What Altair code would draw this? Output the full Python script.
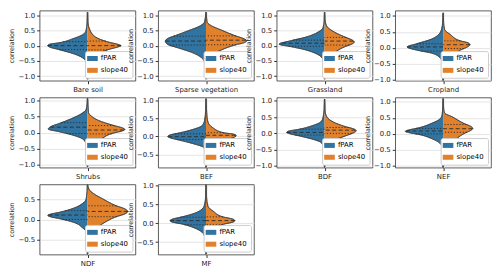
import altair as alt
import numpy as np
import pandas as pd

CLASSES = ["Bare soil", "Sparse vegetation", "Grassland", "Cropland", "Shrubs",
           "BEF", "BDF", "NEF", "NDF", "MF"]
SERIES = ["fPAR", "slope40"]
COLORS = ["#3274a1", "#e1812c"]

# y-axis ranges and ticks per panel
Y_MIN = [-1.15, -1.15, -1.15, -1.03, -1.1, -0.87, -1.05, -1.05, -0.87, -0.83]
Y_MAX = [1.15, 1.15, 1.15, 1.17, 1.1, 1.08, 1.1, 1.13, 0.87, 1.03]
TICKS_FULL = [-1.0, -0.5, 0.0, 0.5, 1.0]
TICKS_BEF = [-0.5, 0.0, 0.5, 1.0]
TICKS_NDF = [-0.5, 0.0, 0.5]
TICKS_MF = [-0.5, 0.0, 0.5, 1.0]

# quartiles (q1, median, q3)
FPAR_Q1 = [-0.13, 0.02, -0.02, -0.10, -0.03, -0.09, -0.05, 0.00, 0.00, -0.04]
FPAR_MED = [0.00, 0.15, 0.08, 0.03, 0.17, -0.01, 0.03, 0.09, 0.11, 0.07]
FPAR_Q3 = [0.13, 0.31, 0.18, 0.13, 0.31, 0.07, 0.13, 0.17, 0.22, 0.16]
SLOPE_Q1 = [-0.14, 0.03, 0.02, -0.02, -0.04, -0.06, 0.00, 0.05, 0.07, -0.03]
SLOPE_MED = [0.00, 0.18, 0.15, 0.10, 0.08, 0.03, 0.10, 0.16, 0.20, 0.07]
SLOPE_Q3 = [0.15, 0.32, 0.27, 0.22, 0.22, 0.10, 0.18, 0.29, 0.34, 0.17]

# violin half profiles: correlation value (y) and half width (w, fraction of half panel)
BARE_FPAR_Y = [-1.1, -0.75, -0.53, -0.4, -0.26, -0.14, -0.04, 0.0, 0.04, 0.1, 0.23, 0.36, 0.5, 0.75, 1.1]
BARE_FPAR_W = [0.004, 0.01, 0.03, 0.1, 0.3, 0.57, 0.8, 0.83, 0.8, 0.57, 0.3, 0.1, 0.03, 0.01, 0.004]
BARE_SLOPE_Y = [-1.1, -0.75, -0.53, -0.29, -0.13, -0.03, 0.0, 0.03, 0.12, 0.28, 0.55, 0.75, 1.1]
BARE_SLOPE_W = [0.004, 0.01, 0.04, 0.17, 0.43, 0.66, 0.70, 0.66, 0.43, 0.17, 0.04, 0.01, 0.004]

SPARSE_FPAR_Y = [-1.1, -0.7, -0.53, -0.4, -0.22, -0.08, 0.05, 0.15, 0.25, 0.33, 0.49, 0.65, 0.78, 1.1]
SPARSE_FPAR_W = [0.004, 0.01, 0.03, 0.09, 0.3, 0.57, 0.81, 0.85, 0.78, 0.64, 0.37, 0.12, 0.03, 0.004]
SPARSE_SLOPE_Y = [-1.1, -0.7, -0.5, -0.34, -0.14, 0.02, 0.1, 0.16, 0.22, 0.33, 0.51, 0.68, 0.78, 1.1]
SPARSE_SLOPE_W = [0.004, 0.01, 0.03, 0.08, 0.32, 0.6, 0.8, 0.85, 0.8, 0.6, 0.32, 0.08, 0.02, 0.004]

GRASS_FPAR_Y = [-1.1, -0.7, -0.47, -0.29, -0.14, -0.03, 0.05, 0.16, 0.28, 0.44, 0.6, 0.8, 1.1]
GRASS_FPAR_W = [0.004, 0.01, 0.03, 0.14, 0.39, 0.71, 0.95, 0.71, 0.39, 0.14, 0.03, 0.01, 0.004]
GRASS_SLOPE_Y = [-1.1, -0.7, -0.45, -0.22, -0.03, 0.06, 0.12, 0.18, 0.28, 0.44, 0.65, 0.85, 1.1]
GRASS_SLOPE_W = [0.004, 0.01, 0.05, 0.21, 0.43, 0.58, 0.62, 0.58, 0.43, 0.21, 0.04, 0.01, 0.004]

CROP_FPAR_Y = [-1.03, -0.7, -0.4, -0.3, -0.16, -0.07, 0.03, 0.13, 0.27, 0.46, 0.6, 0.8, 1.1]
CROP_FPAR_W = [0.004, 0.01, 0.03, 0.07, 0.25, 0.55, 0.75, 0.55, 0.25, 0.07, 0.03, 0.01, 0.004]
CROP_SLOPE_Y = [-1.03, -0.7, -0.38, -0.26, -0.07, 0.04, 0.1, 0.16, 0.22, 0.42, 0.58, 0.8, 1.1]
CROP_SLOPE_W = [0.004, 0.01, 0.03, 0.15, 0.36, 0.52, 0.56, 0.52, 0.36, 0.15, 0.03, 0.01, 0.004]

SHRUB_FPAR_Y = [-1.08, -0.7, -0.45, -0.32, -0.2, -0.07, 0.03, 0.11, 0.2, 0.28, 0.44, 0.59, 0.72, 0.9, 1.08]
SHRUB_FPAR_W = [0.004, 0.01, 0.02, 0.04, 0.1, 0.33, 0.6, 0.82, 0.75, 0.6, 0.33, 0.13, 0.03, 0.01, 0.004]
SHRUB_SLOPE_Y = [-1.08, -0.7, -0.5, -0.42, -0.22, -0.02, 0.05, 0.1, 0.15, 0.23, 0.38, 0.53, 0.62, 0.85, 1.08]
SHRUB_SLOPE_W = [0.004, 0.01, 0.02, 0.07, 0.27, 0.53, 0.72, 0.78, 0.72, 0.53, 0.23, 0.07, 0.02, 0.01, 0.004]

BEF_FPAR_Y = [-0.87, -0.5, -0.32, -0.2, -0.11, -0.04, 0.0, 0.04, 0.1, 0.19, 0.3, 0.45, 0.7, 1.05]
BEF_FPAR_W = [0.004, 0.01, 0.04, 0.28, 0.54, 0.75, 0.8, 0.75, 0.54, 0.28, 0.08, 0.03, 0.01, 0.004]
BEF_SLOPE_Y = [-0.87, -0.5, -0.32, -0.23, -0.11, -0.03, 0.02, 0.06, 0.1, 0.24, 0.4, 0.55, 0.75, 1.05]
BEF_SLOPE_W = [0.004, 0.01, 0.04, 0.14, 0.37, 0.58, 0.63, 0.58, 0.37, 0.14, 0.04, 0.02, 0.01, 0.004]

BDF_FPAR_Y = [-1.05, -0.6, -0.38, -0.27, -0.17, -0.08, 0.0, 0.03, 0.07, 0.13, 0.23, 0.35, 0.5, 0.75, 1.05]
BDF_FPAR_W = [0.004, 0.01, 0.03, 0.08, 0.27, 0.52, 0.75, 0.79, 0.75, 0.52, 0.27, 0.08, 0.03, 0.01, 0.004]
BDF_SLOPE_Y = [-1.05, -0.6, -0.35, -0.22, -0.08, 0.03, 0.08, 0.13, 0.21, 0.35, 0.5, 0.7, 1.05]
BDF_SLOPE_W = [0.004, 0.01, 0.04, 0.18, 0.43, 0.62, 0.66, 0.62, 0.43, 0.18, 0.05, 0.01, 0.004]

NEF_FPAR_Y = [-1.05, -0.7, -0.4, -0.3, -0.14, -0.02, 0.04, 0.08, 0.12, 0.19, 0.32, 0.47, 0.6, 0.8, 1.1]
NEF_FPAR_W = [0.004, 0.01, 0.02, 0.06, 0.25, 0.5, 0.72, 0.79, 0.72, 0.5, 0.25, 0.06, 0.02, 0.01, 0.004]
NEF_SLOPE_Y = [-1.05, -0.7, -0.4, -0.25, 0.01, 0.11, 0.17, 0.23, 0.32, 0.53, 0.65, 0.8, 1.1]
NEF_SLOPE_W = [0.004, 0.01, 0.04, 0.19, 0.44, 0.58, 0.62, 0.58, 0.44, 0.19, 0.03, 0.01, 0.004]

NDF_FPAR_Y = [-0.87, -0.5, -0.3, -0.21, -0.07, 0.02, 0.07, 0.1, 0.13, 0.18, 0.28, 0.4, 0.5, 0.7, 0.87]
NDF_FPAR_W = [0.004, 0.01, 0.03, 0.1, 0.29, 0.58, 0.78, 0.83, 0.78, 0.58, 0.29, 0.1, 0.03, 0.01, 0.004]
NDF_SLOPE_Y = [-0.87, -0.5, -0.35, -0.25, -0.1, 0.06, 0.15, 0.2, 0.25, 0.35, 0.51, 0.64, 0.75, 0.87]
NDF_SLOPE_W = [0.004, 0.01, 0.04, 0.13, 0.32, 0.58, 0.8, 0.84, 0.8, 0.58, 0.32, 0.13, 0.03, 0.004]

MF_FPAR_Y = [-0.83, -0.5, -0.35, -0.24, -0.12, -0.02, 0.03, 0.07, 0.11, 0.17, 0.26, 0.38, 0.5, 0.7, 1.03]
MF_FPAR_W = [0.004, 0.01, 0.03, 0.08, 0.25, 0.5, 0.7, 0.75, 0.7, 0.5, 0.25, 0.08, 0.03, 0.01, 0.004]
MF_SLOPE_Y = [-0.83, -0.5, -0.38, -0.2, -0.03, 0.03, 0.07, 0.11, 0.17, 0.32, 0.45, 0.7, 1.03]
MF_SLOPE_W = [0.004, 0.01, 0.04, 0.15, 0.35, 0.56, 0.6, 0.56, 0.35, 0.15, 0.04, 0.01, 0.004]

PROFILES = [
    ((BARE_FPAR_Y, BARE_FPAR_W), (BARE_SLOPE_Y, BARE_SLOPE_W)),
    ((SPARSE_FPAR_Y, SPARSE_FPAR_W), (SPARSE_SLOPE_Y, SPARSE_SLOPE_W)),
    ((GRASS_FPAR_Y, GRASS_FPAR_W), (GRASS_SLOPE_Y, GRASS_SLOPE_W)),
    ((CROP_FPAR_Y, CROP_FPAR_W), (CROP_SLOPE_Y, CROP_SLOPE_W)),
    ((SHRUB_FPAR_Y, SHRUB_FPAR_W), (SHRUB_SLOPE_Y, SHRUB_SLOPE_W)),
    ((BEF_FPAR_Y, BEF_FPAR_W), (BEF_SLOPE_Y, BEF_SLOPE_W)),
    ((BDF_FPAR_Y, BDF_FPAR_W), (BDF_SLOPE_Y, BDF_SLOPE_W)),
    ((NEF_FPAR_Y, NEF_FPAR_W), (NEF_SLOPE_Y, NEF_SLOPE_W)),
    ((NDF_FPAR_Y, NDF_FPAR_W), (NDF_SLOPE_Y, NDF_SLOPE_W)),
    ((MF_FPAR_Y, MF_FPAR_W), (MF_SLOPE_Y, MF_SLOPE_W)),
]
TICKS = [TICKS_FULL] * 5 + [TICKS_BEF, TICKS_FULL, TICKS_FULL, TICKS_NDF, TICKS_MF]

FONT = "DejaVu Sans"
PANEL_W = 97
PANEL_H = 71


def panel(i):
    cls = CLASSES[i]
    rows = []
    qrows = []
    quarts = [(FPAR_Q1[i], FPAR_MED[i], FPAR_Q3[i]), (SLOPE_Q1[i], SLOPE_MED[i], SLOPE_Q3[i])]
    for k, s in enumerate(SERIES):
        ys, ws = PROFILES[i][k]
        sign = -1 if k == 0 else 1
        for y, w in zip(ys, ws):
            rows.append({"series": s, "y": y, "x": sign * w, "x0": 0.0})
        for j, q in enumerate(quarts[k]):
            wq = float(np.interp(q, ys, ws))
            qrows.append({"series": s, "y": q, "x": sign * wq, "x0": 0.0,
                          "kind": "median" if j == 1 else "quartile"})
    df = pd.DataFrame(rows)
    qdf = pd.DataFrame(qrows)

    xscale = alt.Scale(domain=[-1, 1], nice=False, zero=False)
    yscale = alt.Scale(domain=[Y_MIN[i], Y_MAX[i]], nice=False, zero=False)
    xaxis = alt.Axis(values=[0], labelExpr=f"'{cls}'", title=None, grid=True,
                     gridColor="#dedede", gridWidth=0.8, tickSize=3, tickColor="#333",
                     labelFontSize=7, labelPadding=2, domain=False)
    yaxis = alt.Axis(values=TICKS[i], format=".1f", title="correlation", grid=True,
                     gridColor="#dedede", gridWidth=0.8, tickSize=3, tickColor="#333",
                     labelFontSize=7, titleFontSize=6.5, titleFontWeight="normal",
                     labelPadding=2, titlePadding=3, domain=False,
                     labelOverlap=False, labelFlush=False, labelBound=False)
    X = alt.X("x:Q", scale=xscale, axis=xaxis, stack=False)
    Y = alt.Y("y:Q", scale=yscale, axis=yaxis)

    fill = alt.Chart(df).mark_area(
        orient="horizontal", interpolate="monotone", opacity=1, clip=True
    ).encode(
        y=Y,
        x=X,
        x2="x0:Q",
        color=alt.Color("series:N", scale=alt.Scale(domain=SERIES, range=COLORS),
                        legend=alt.Legend(orient="bottom-right", title=None, offset=3,
                                          padding=4, fillColor="white", strokeColor="#cccccc",
                                          cornerRadius=2, labelFontSize=7, labelFont=FONT,
                                          symbolType="M-1.7,-0.8H1.7V0.8H-1.7Z",
                                          symbolSize=40, symbolStrokeWidth=0,
                                          symbolOpacity=1, rowPadding=4, labelOffset=5)),
    )
    outline = alt.Chart(df).mark_area(
        orient="horizontal", interpolate="monotone", fillOpacity=0,
        stroke="#404040", strokeWidth=0.7, clip=True
    ).encode(
        y=Y,
        x=X,
        x2="x:Q",
        detail="series:N",
    )
    rules = alt.Chart(qdf).mark_rule(color="#2a2a2a", strokeWidth=0.9).encode(
        y=Y,
        x=X,
        x2="x0:Q",
        strokeDash=alt.StrokeDash("kind:N", scale=alt.Scale(domain=["quartile", "median"],
                                                            range=[[1.2, 1.8], [4, 2.5]]),
                                  legend=None),
    )
    return alt.layer(fill, outline, rules).properties(width=PANEL_W, height=PANEL_H)


panels = [panel(i) for i in range(len(CLASSES))]
chart = alt.concat(*panels, columns=4, spacing={"row": 17, "column": 23}, bounds="flush").resolve_scale(
    color="independent", strokeDash="independent", x="independent", y="independent"
).resolve_legend(color="independent").properties(padding=0).configure(font=FONT).configure_view(
    stroke="#333333", strokeWidth=0.8
).configure_axis(labelFont=FONT, titleFont=FONT, labelColor="#222", titleColor="#222",
                 labelOverlap=False)

chart.save("out.html", embed_options={"renderer": "svg", "actions": False})
